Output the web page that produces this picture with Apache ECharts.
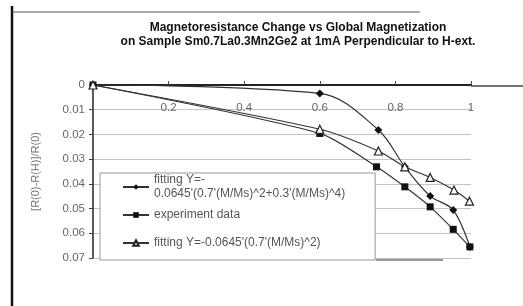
<!DOCTYPE html>
<html>
<head>
<meta charset="utf-8">
<script src="https://cdn.jsdelivr.net/npm/echarts@6/dist/echarts.min.js"></script>
<style>
  html, body { margin: 0; padding: 0; background: #fff; }
  #chart { width: 523px; height: 306px; }
</style>
</head>
<body>
<div id="chart"></div>
<script>
// 数据 (M/Ms, 磁阻变化)
var nameFit4 = "fitting Y=-0.0645'(0.7'(M/Ms)^2+0.3'(M/Ms)^4)"
var nameExp = 'experiment data'
var nameFit2 = "fitting Y=-0.0645'(0.7'(M/Ms)^2)"

var fit4X = [0, 0.6, 0.755, 0.825, 0.892, 0.953, 0.997]
var fit4Y = [0, 0.0034, 0.0182, 0.0331, 0.0449, 0.0506, 0.0655]

var expX = [0, 0.6, 0.75, 0.825, 0.892, 0.953, 0.997]
var expY = [0, 0.0196, 0.0331, 0.0412, 0.0493, 0.0584, 0.0655]

var fit2X = [0, 0.6, 0.755, 0.825, 0.892, 0.955, 0.996]
var fit2Y = [0, 0.0179, 0.0267, 0.0331, 0.0374, 0.0425, 0.047]

var xTickLabels = ['0', '0.2', '0.4', '0.6', '0.8', '1']
var yTickLabels = ['0', '0.01', '0.02', '0.03', '0.04', '0.05', '0.06', '0.07']

function pairs(xs, ys) {
  return xs.map(function (x, i) { return [x, ys[i]] })
}

var font = 'Liberation Sans, Arial, sans-serif'
var labelFont = { fontFamily: font, fontSize: 11.5, color: '#666' }

var options = {
  animation: false,
  backgroundColor: '#fff',
  title: {
    text: 'Magnetoresistance Change vs Global Magnetization\non Sample Sm0.7La0.3Mn2Ge2 at 1mA Perpendicular to H-ext.',
    left: 293,
    top: 16,
    textAlign: 'center',
    textStyle: {
      fontFamily: font,
      fontSize: 12,
      fontWeight: 'bold',
      color: '#111',
      lineHeight: 14
    }
  },
  grid: { left: 93, right: 52, top: 85, bottom: 48 },
  legend: {
    orient: 'vertical',
    left: 100,
    top: 173,
    itemGap: 0,
    itemWidth: 26,
    itemHeight: 7,
    padding: [0, 30, 3, 22],
    borderColor: '#999',
    borderWidth: 1,
    backgroundColor: '#fff',
    data: [nameFit4, nameExp, nameFit2],
    formatter: function (name) {
      if (name === nameFit4) {
        return "{t|fitting Y=-}\n{t|0.0645'(0.7'(M/Ms)^2+0.3'(M/Ms)^4)}"
      }
      return '{s|' + name + '}'
    },
    textStyle: {
      fontFamily: font,
      fontSize: 12,
      color: '#555',
      rich: {
        t: { fontSize: 12, lineHeight: 14, height: 14, color: '#555' },
        s: { fontSize: 12, lineHeight: 28, height: 28, verticalAlign: 'middle', color: '#555' }
      }
    }
  },
  xAxis: {
    type: 'value',
    position: 'top',
    min: 0,
    max: 1,
    interval: 0.2,
    axisLine: { onZero: false, lineStyle: { color: '#222', width: 2 } },
    axisTick: { show: true, length: 4, lineStyle: { color: '#444' } },
    axisLabel: Object.assign({
      inside: true,
      margin: 17,
      showMinLabel: false,
      formatter: function (v) { return xTickLabels[Math.round(v / 0.2)] }
    }, labelFont),
    splitLine: { show: false }
  },
  yAxis: {
    type: 'value',
    inverse: true,
    min: 0,
    max: 0.07,
    interval: 0.01,
    name: '[R(0)-R(H)]/R(0)',
    nameLocation: 'middle',
    nameGap: 52,
    nameRotate: 90,
    nameTextStyle: { fontFamily: font, fontSize: 11, color: '#777' },
    axisLine: { show: true, lineStyle: { color: '#222', width: 1.5 } },
    axisTick: { show: true, length: 4, lineStyle: { color: '#444' } },
    axisLabel: Object.assign({
      margin: 8,
      formatter: function (v) { return yTickLabels[Math.round(v / 0.01)] }
    }, labelFont),
    splitLine: { show: true, lineStyle: { color: '#c4c4c4', width: 1 } }
  },
  graphic: [
    { type: 'line', shape: { x1: 12, y1: 6, x2: 12, y2: 306 }, style: { stroke: '#111', lineWidth: 2.5 } },
    { type: 'line', shape: { x1: 12, y1: 12, x2: 420, y2: 12 }, style: { stroke: '#555', lineWidth: 1.2 } },
    { type: 'line', shape: { x1: 471, y1: 86, x2: 523, y2: 86 }, style: { stroke: '#444', lineWidth: 1.5 } },
    { type: 'line', shape: { x1: 376, y1: 260, x2: 443, y2: 260 }, style: { stroke: '#777', lineWidth: 1.5 } }
  ],
  series: [
    {
      name: nameFit4,
      type: 'line',
      smooth: 0.35,
      data: pairs(fit4X, fit4Y),
      symbol: 'diamond',
      symbolSize: 8,
      itemStyle: { color: '#111' },
      lineStyle: { color: '#333', width: 1.2 }
    },
    {
      name: nameExp,
      type: 'line',
      smooth: 0.25,
      data: pairs(expX, expY),
      symbol: 'rect',
      symbolSize: 7,
      itemStyle: { color: '#111' },
      lineStyle: { color: '#333', width: 1.2 }
    },
    {
      name: nameFit2,
      type: 'line',
      smooth: 0.25,
      data: pairs(fit2X, fit2Y),
      symbol: 'triangle',
      symbolSize: 8,
      itemStyle: { color: '#fff', borderColor: '#222', borderWidth: 1.2 },
      lineStyle: { color: '#333', width: 1.2 }
    }
  ]
}

var myChart = echarts.init(document.getElementById('chart'))
myChart.setOption(options)
</script>
</body>
</html>
